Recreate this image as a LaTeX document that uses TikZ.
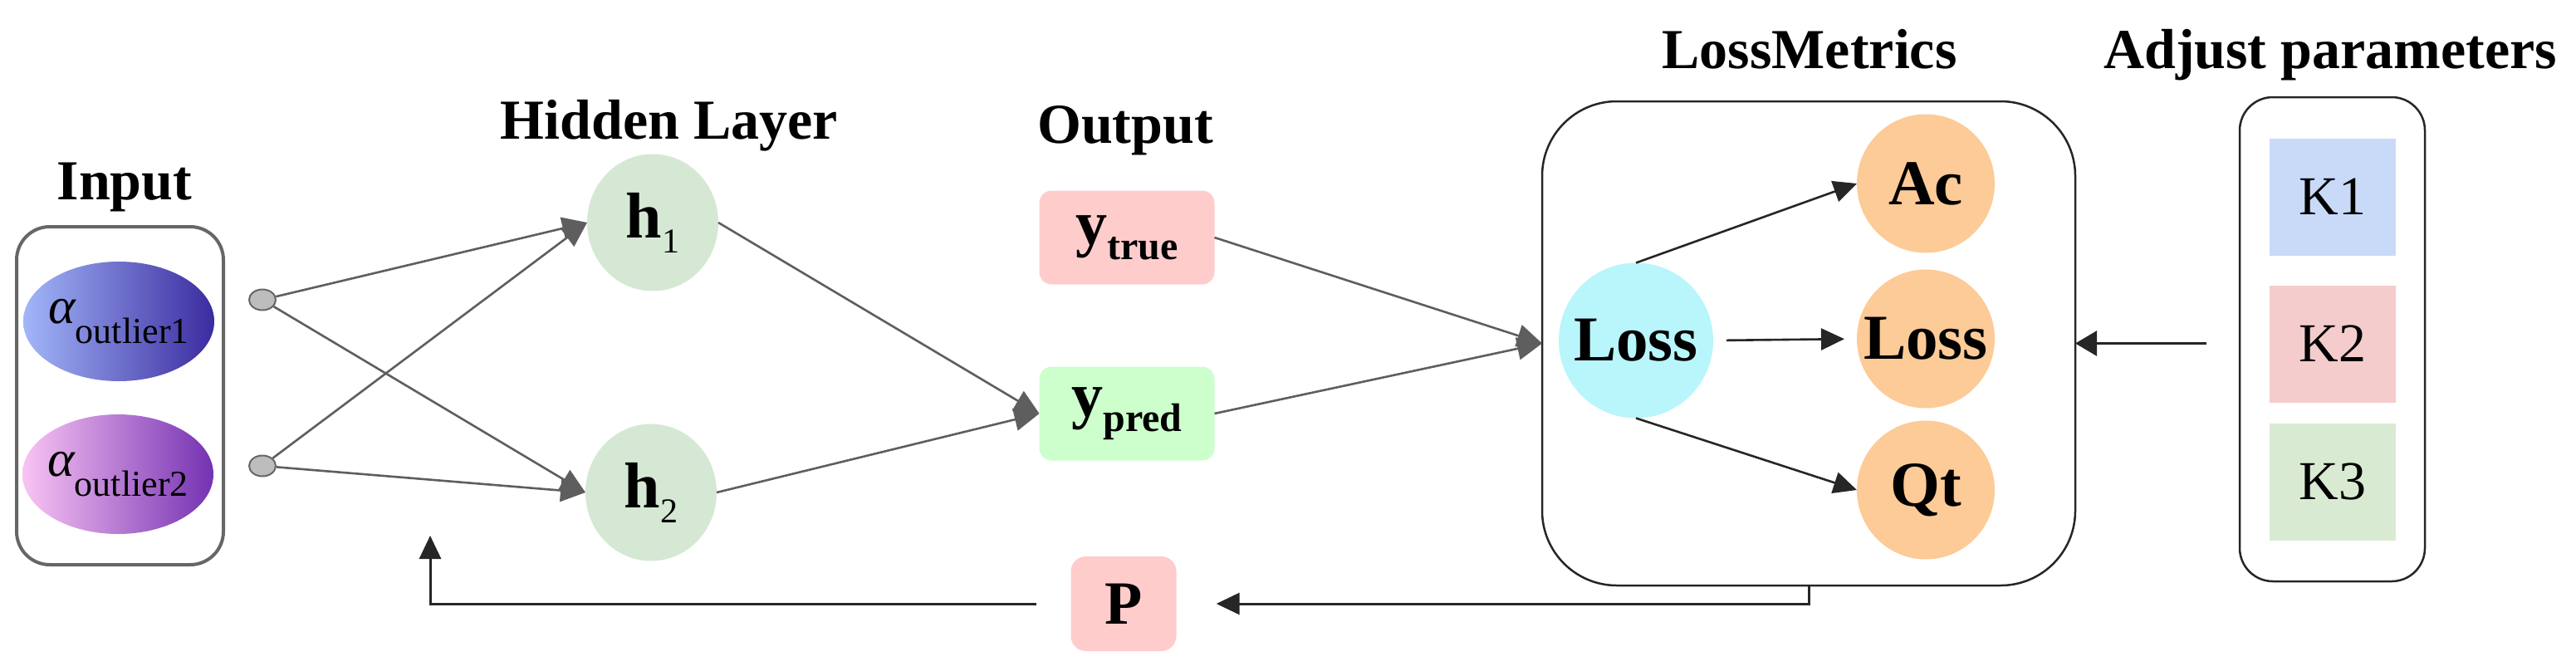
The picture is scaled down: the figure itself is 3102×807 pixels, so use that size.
\documentclass[tikz,border=0pt]{standalone}
\usepackage{fontspec}
\setmainfont{Liberation Serif}
\usetikzlibrary{shapes.geometric,arrows.meta,calc}
\definecolor{gline}{HTML}{5E5E5E}
\definecolor{dline}{HTML}{262626}
\definecolor{boxgray}{HTML}{666666}
\definecolor{dotfill}{HTML}{BDBDBD}
\definecolor{hgreen}{HTML}{D5E8D4}
\definecolor{lred}{HTML}{FFCCCC}
\definecolor{lgreen}{HTML}{CCFFCC}
\definecolor{lcyan}{HTML}{B8F6FB}
\definecolor{lorange}{HTML}{FDCB97}
\definecolor{kblue}{HTML}{C9DAF8}
\definecolor{kred}{HTML}{F4CCCC}
\definecolor{kgreen}{HTML}{D9EAD3}
\definecolor{ablueL}{HTML}{A2B6F8}
\definecolor{ablueR}{HTML}{3B2BA0}
\definecolor{apinkL}{HTML}{F9C4F4}
\definecolor{apinkR}{HTML}{7432B2}
\newcommand{\bigsub}[4]{{\fontsize{#1}{#1}\selectfont #3}\raisebox{-18pt}{\fontsize{#2}{#2}\selectfont #4}}
\newcommand{\alphasub}[1]{{\fontsize{62}{62}\selectfont\itshape α}\raisebox{-24pt}{\fontsize{44}{44}\selectfont #1}}
\tikzset{
  titletext/.style={font=\fontsize{68}{72}\selectfont\bfseries, anchor=base, inner sep=0pt},
  inell/.style={ellipse, inner sep=0pt, outer sep=0pt, minimum width=230pt, minimum height=144pt},
  dot/.style={ellipse, draw=boxgray, fill=dotfill, line width=2pt, inner sep=0pt, minimum width=32pt, minimum height=25pt},
  hid/.style={ellipse, fill=hgreen, inner sep=0pt, outer sep=0pt, minimum width=158pt, minimum height=165pt},
  outbox/.style={rectangle, rounded corners=15pt, inner sep=0pt, outer sep=0pt, minimum width=211pt, minimum height=113pt},
  mtext/.style={font=\fontsize{77}{77}\selectfont\bfseries, inner sep=0pt},
  metric/.style={ellipse, fill=lorange, inner sep=0pt, outer sep=0pt, minimum width=166pt, minimum height=167pt},
  kbox/.style={rectangle, inner sep=0pt, outer sep=0pt, minimum width=152pt, minimum height=141pt, font=\fontsize{66}{66}\selectfont},
  bigframe/.style={rectangle, draw=dline, line width=2.5pt, inner sep=0pt, outer sep=0pt},
  conn/.style={draw=gline, line width=2.6pt, -{Triangle[length=30pt,width=27pt]}},
  dconn/.style={draw=dline, line width=2.6pt, -{Triangle[length=28pt,width=26pt]}},
  fb/.style={draw=dline, line width=3pt, -{Triangle[length=28pt,width=26pt]}}
}
\begin{document}
\begin{tikzpicture}[x=1pt,y=-1pt]
\useasboundingbox (0,0) rectangle (3102,807);
% titles
\node[titletext] (tin) at (150,240) {Input};
\node[titletext] (thid) at (806,167) {Hidden Layer};
\node[titletext] (tout) at (1355,172) {Output};
\node[titletext] (tlm) at (2179,82) {LossMetrics};
\node[titletext] (tadj) at (2806,82) {Adjust parameters};
% input
\node[rectangle, draw=boxgray, line width=4pt, rounded corners=40pt, minimum width=249pt, minimum height=407pt, inner sep=0pt] (inbox) at (144.5,476.5) {};
\node[inell, left color=ablueL, right color=ablueR] (e1) at (143,387) {};
\node[inell, left color=apinkL, right color=apinkR] (e2) at (142,571) {};
\node[inner sep=0pt] (e1t) at (e1.center) {\alphasub{outlier1}};
\node[inner sep=0pt] (e2t) at (e2.center) {\alphasub{outlier2}};
\node[dot] (c1) at (316,361) {};
\node[dot] (c2) at (316,561) {};
% hidden
\node[hid] (h1) at (786,268) {\bigsub{78}{42}{\bfseries h}{1}};
\node[hid] (h2) at (784,593) {\bigsub{78}{42}{\bfseries h}{2}};
% output
\node[outbox, fill=lred] (ytrue) at (1357,286) {\bigsub{76}{48}{\bfseries y}{\bfseries true}};
\node[outbox, fill=lgreen] (ypred) at (1357,498) {\bigsub{76}{48}{\bfseries y}{\bfseries pred}};
% loss metrics
\node[bigframe, rounded corners=90pt, minimum width=642pt, minimum height=583pt] (LM) at (2178,413.5) {};
\node[ellipse, fill=lcyan, inner sep=0pt, outer sep=0pt, minimum width=186pt, minimum height=187pt, label={[mtext]center:Loss}] (loss) at (1970,410) {};
\node[metric, label={[mtext]center:Ac}] (ac) at (2319,221) {};
\node[metric, label={[mtext]center:Loss}] (lo2) at (2319,408) {};
\node[metric, label={[mtext]center:Qt}] (qt) at (2319,590) {};
% adjust parameters
\node[bigframe, rounded corners=40pt, minimum width=223pt, minimum height=583pt] (adj) at (2808.5,408.5) {};
\node[kbox, fill=kblue] (k1) at (2809,237) {K1};
\node[kbox, fill=kred] (k2) at (2809,414) {K2};
\node[kbox, fill=kgreen] (k3) at (2809,580) {K3};
% P
\node[rectangle, rounded corners=18pt, fill=lred, inner sep=0pt, minimum width=127pt, minimum height=114pt, font=\fontsize{74}{74}\selectfont\bfseries] (P) at (1353,727) {P};
\coordinate (adjstart) at (2657,413.5);
\coordinate (fbtip) at (518,645);
% connectors input -> hidden
\draw[conn] (c1) -- (h1.west);
\draw[conn] (c1) -- (h2.west);
\draw[conn] (c2) -- (h1.west);
\draw[conn] (c2) -- (h2.west);
% hidden -> output
\draw[conn] (h1.east) -- (ypred.west);
\draw[conn] (h2.east) -- (ypred.west);
% output -> loss metrics
\draw[conn] (ytrue.east) -- (LM.west);
\draw[conn] (ypred.east) -- (LM.west);
% inside loss metrics
\draw[dconn] (loss.north) -- (ac.west);
\draw[dconn, shorten <=16pt, shorten >=15pt] (loss.east) -- (lo2.west);
\draw[dconn] (loss.south) -- (qt.west);
% adjust -> loss metrics
\draw[dconn, -{Triangle[length=26pt,width=30pt]}] (adjstart) -- (LM.east);
% feedback
\draw[fb, shorten >=48pt] (LM.south) |- (P.east);
\draw[fb, shorten <=41pt] (P.west) -| (fbtip);
\end{tikzpicture}
\end{document}
